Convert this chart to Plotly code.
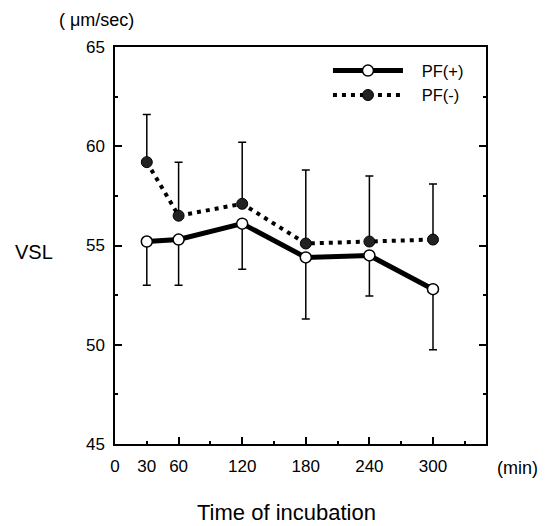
import plotly.graph_objects as go

time_min = [30, 60, 120, 180, 240, 300]
pf_plus = [55.2, 55.3, 56.1, 54.4, 54.5, 52.8]
pf_plus_sd = [2.2, 2.3, 2.3, 3.1, 2.05, 3.05]
pf_minus = [59.2, 56.5, 57.1, 55.1, 55.2, 55.3]
pf_minus_sd = [2.4, 2.7, 3.1, 3.7, 3.3, 2.8]

x_tick_vals = [0, 30, 60, 120, 180, 240, 300]
x_tick_text = ["0", "30", "60", "120", "180", "240", "300"]
x_major_ticks = [60, 120, 180, 240, 300]
x_minor_ticks = [30, 90, 150, 210, 270, 330]
y_tick_vals = [45, 50, 55, 60, 65]

FONT = "Liberation Sans, Arial, sans-serif"
NB = "\u00a0\u00a0\u00a0"

fig = go.Figure()

fig.add_trace(go.Scatter(
    x=time_min, y=pf_minus, mode="lines+markers", name=NB + "PF(-)",
    line=dict(color="black", width=4, dash="4px,5px"),
    marker=dict(symbol="circle", size=11, color="#222222", line=dict(color="black", width=1)),
    error_y=dict(type="data", symmetric=False, array=pf_minus_sd,
                 arrayminus=[0] * len(pf_minus_sd), color="black", thickness=1.5, width=4),
))
fig.add_trace(go.Scatter(
    x=time_min, y=pf_plus, mode="lines+markers", name=NB + "PF(+)",
    line=dict(color="black", width=5),
    marker=dict(symbol="circle", size=11, color="white", line=dict(color="black", width=1.5)),
    error_y=dict(type="data", symmetric=False, array=[0] * len(pf_plus_sd),
                 arrayminus=pf_plus_sd, color="black", thickness=1.5, width=4),
))
# carrier for the tick-only overlay axis
fig.add_trace(go.Scatter(x=[], y=[], xaxis="x2", showlegend=False, hoverinfo="skip"))

ann = dict(xref="paper", yref="paper", showarrow=False, xanchor="center", yanchor="middle")

fig.update_layout(
    width=538, height=518,
    margin=dict(l=107, r=60, t=39, b=82),
    paper_bgcolor="white", plot_bgcolor="white",
    font=dict(family=FONT, size=17, color="black"),
    showlegend=True,
    legend=dict(x=0.574, y=0.984, xanchor="left", yanchor="top",
                traceorder="reversed", itemwidth=70,
                bgcolor="rgba(0,0,0,0)", font=dict(size=16.5, family=FONT),
                tracegroupgap=0),
    xaxis=dict(range=[0, 350], tickvals=x_tick_vals, ticktext=x_tick_text,
               ticks="", showgrid=False, zeroline=False,
               showline=True, linecolor="black", linewidth=1.5, mirror=True,
               ticklabelstandoff=6, tickfont=dict(size=17)),
    xaxis2=dict(range=[0, 350], overlaying="x", anchor="y", side="bottom",
                tickvals=x_major_ticks, ticks="inside", ticklen=7, tickwidth=1.5,
                tickcolor="black", showticklabels=False, showgrid=False,
                zeroline=False, showline=False,
                minor=dict(tickvals=x_minor_ticks, ticks="inside", ticklen=3,
                           tickwidth=1.5, tickcolor="black", showgrid=False)),
    yaxis=dict(range=[45, 65], tickvals=y_tick_vals, ticks="inside", ticklen=7,
               tickwidth=1.5, tickcolor="black", showgrid=False, zeroline=False,
               showline=True, linecolor="black", linewidth=1.5, mirror="ticks",
               ticklabelstandoff=5, tickfont=dict(size=17),
               minor=dict(dtick=2.5, ticks="inside", ticklen=3, tickwidth=1.5,
                          tickcolor="black", showgrid=False)),
    annotations=[
        dict(text="VSL", x=-0.218, y=0.4836, font=dict(size=20, family=FONT), **ann),
        dict(text="( μm/sec)", x=-0.0512, y=1.068, font=dict(size=18, family=FONT), **ann),
        dict(text="(min)", x=1.0836, y=-0.0605, font=dict(size=18, family=FONT), **ann),
        dict(text="Time of incubation", x=0.4636, y=-0.1738, font=dict(size=22, family=FONT), **ann),
    ],
)

fig.write_html("out.html")
